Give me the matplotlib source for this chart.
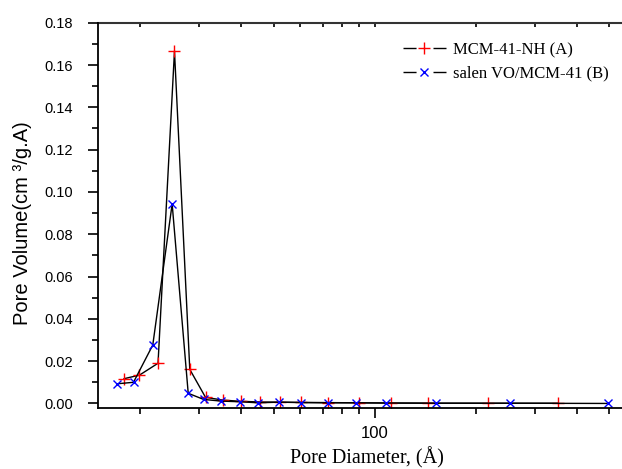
import matplotlib
matplotlib.use("Agg")
import matplotlib.pyplot as plt
from matplotlib.lines import Line2D
from matplotlib.ticker import LogLocator, NullFormatter, FixedLocator, FixedFormatter, MultipleLocator

# pore size distribution
d_a = [17.9, 19.9, 22.6, 25.3, 28.1, 31.3, 35.2, 39.9, 45.4, 52.1, 60.4, 72.6, 89.6, 112.1, 144, 217.7, 351.6]
v_a = [0.0117, 0.0134, 0.0190, 0.1666, 0.0161, 0.0029, 0.0016, 0.0010, 0.0007, 0.0006,
       0.0005, 0.0004, 0.0003, 0.0002, 0.00015, 0.0001, 0.0001]

d_b = [17.1, 19.1, 21.8, 24.9, 27.8, 30.9, 34.9, 39.6, 44.9, 51.8, 60.4, 72.3, 87.6, 107.6, 151.7, 252.6, 495.7]
v_b = [0.0093, 0.0100, 0.0276, 0.0943, 0.0048, 0.0019, 0.0011, 0.0008, 0.0003, 0.0006,
       0.0004, 0.0003, 0.0003, 0.0002, 0.0001, 0.0001, 0.0]

label_a = "MCM-41-NH (A)"
label_b = "salen VO/MCM-41 (B)"

fig = plt.figure(figsize=(6.22, 4.69), dpi=100)
ax = fig.add_axes([0.158, 0.1294, 0.842, 0.8222])

ax.plot(d_a, v_a, color="black", lw=1.0, marker="+", mec="red", ms=8, mew=1.0)
ax.plot(d_b, v_b, color="black", lw=1.0, marker="x", mec="blue", ms=5.5, mew=1.0)

ax.set_xscale("log")
ax.set_xlim(15, 545)
ax.set_ylim(-0.0023, 0.18)

ax.xaxis.set_major_locator(FixedLocator([100]))
ax.xaxis.set_major_formatter(FixedFormatter(["100"]))
ax.xaxis.set_minor_locator(LogLocator(base=10, subs=range(2, 10)))
ax.xaxis.set_minor_formatter(NullFormatter())
ax.yaxis.set_major_locator(FixedLocator([0.02 * i for i in range(10)]))
ax.yaxis.set_major_formatter(FixedFormatter(["%.2f" % (0.02 * i) for i in range(10)]))
ax.yaxis.set_minor_locator(MultipleLocator(0.01))

ax.tick_params(axis="both", which="major", direction="out", length=7, width=1.2)
ax.tick_params(axis="both", which="minor", direction="out", length=4, width=1.2)
ax.tick_params(axis="y", which="major", labelsize=10.5, pad=11)
ax.tick_params(axis="x", which="major", labelsize=12, pad=6)
for lab in ax.get_xticklabels() + ax.get_yticklabels():
    lab.set_fontfamily("Liberation Sans")

# short inward ticks on the top spine
top = ax.secondary_xaxis("top")
top.xaxis.set_major_locator(FixedLocator([100]))
top.xaxis.set_minor_locator(LogLocator(base=10, subs=range(2, 10)))
top.xaxis.set_major_formatter(NullFormatter())
top.xaxis.set_minor_formatter(NullFormatter())
top.tick_params(which="both", direction="in", length=3, width=1.2)
top.spines["top"].set_linewidth(1.5)
top.spines["top"].set_color("#333333")

ax.spines["right"].set_visible(False)
ax.spines["top"].set_visible(False)
for s in ("left", "bottom"):
    ax.spines[s].set_linewidth(1.3)

ax.set_xlabel("Pore Diameter, (Å)", fontfamily="Liberation Serif", fontsize=14.5)
ax.xaxis.set_label_coords(0.513, -0.101)
ax.set_ylabel("Pore Volume(cm ³/g.A)", fontfamily="Liberation Sans", fontsize=14.5)
ax.yaxis.set_label_coords(-0.126, 0.48)

# legend handles: line - marker - line with gaps, like the original
h_a = Line2D([], [], color="black", lw=1.0, ls=(0, (9.4, 12.2)), marker="+", mec="red", ms=8, mew=1.0)
h_b = Line2D([], [], color="black", lw=1.0, ls=(0, (9.4, 12.2)), marker="x", mec="blue", ms=5.5, mew=1.0)
ax.legend([h_a, h_b], [label_a, label_b], loc="upper left", bbox_to_anchor=(0.575, 0.958),
          frameon=False, prop={"family": "Liberation Serif", "size": 12}, handlelength=2.6,
          handletextpad=0.4, labelspacing=0.45, borderaxespad=0.0, borderpad=0.2)

fig.savefig("out.png", dpi=100)
